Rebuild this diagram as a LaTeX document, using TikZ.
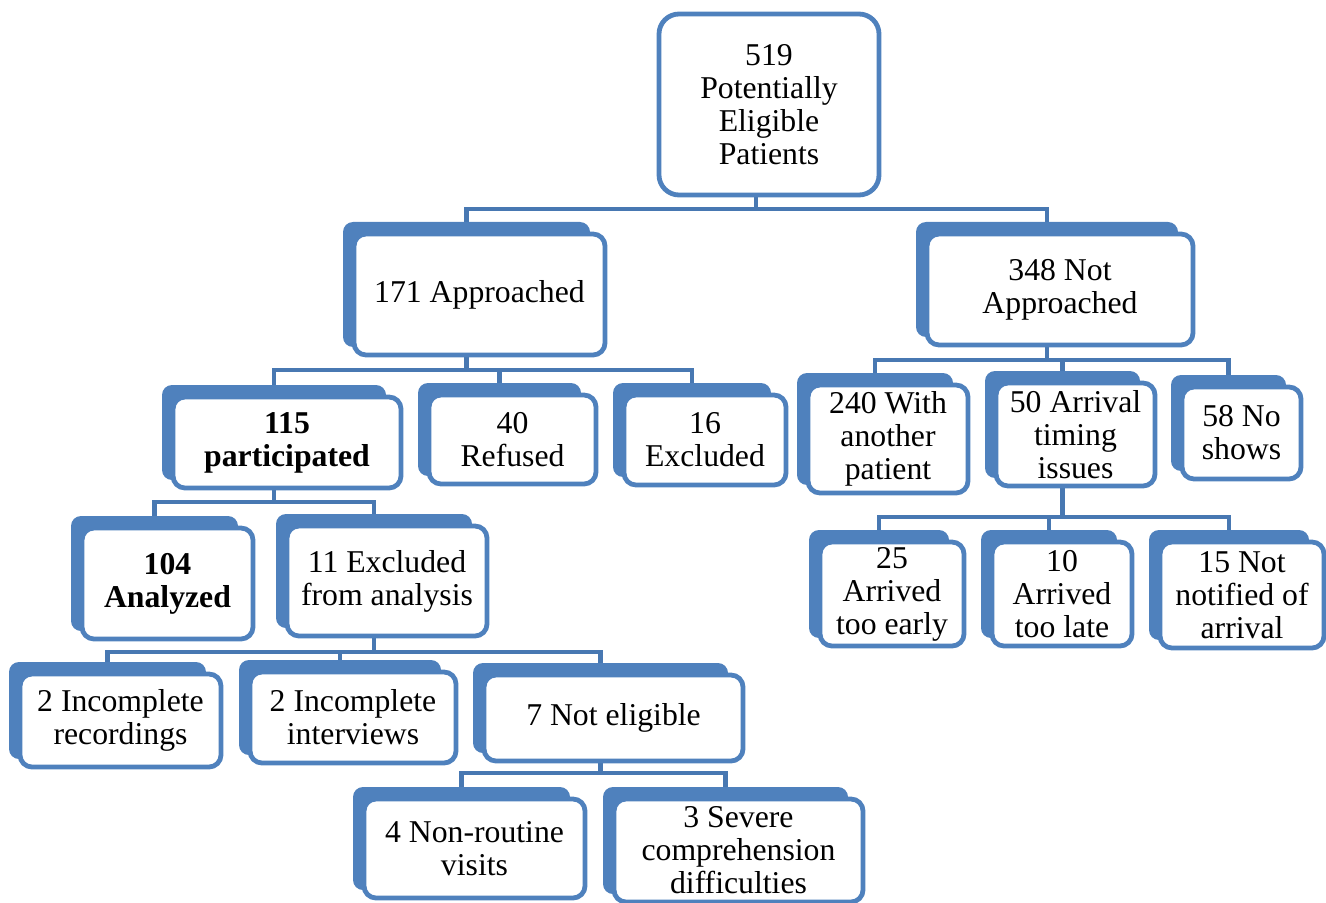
\documentclass[tikz,border=0pt]{standalone}
\usepackage{fontspec}
\setmainfont{Liberation Serif}
\usetikzlibrary{backgrounds}
\definecolor{boxblue}{HTML}{4F81BD}
\definecolor{connblue}{HTML}{4878B2}
\tikzset{
  backbox/.style={fill=boxblue, draw=none, rounded corners=7.5pt, inner sep=0pt, outer sep=0pt},
  frontbox/.style={fill=white, draw=boxblue, line width=3.6pt, rounded corners=9pt, inner sep=0pt, outer sep=0pt, align=center, font=\fontsize{23.8pt}{24.75pt}\selectfont},
  conn/.style={draw=connblue, line width=3.6pt},
}
\newcommand\tbox[7]{%
  \pgfmathsetmacro\BWd{0.75*(#4-#2-8)}%
  \pgfmathsetmacro\BHt{0.75*(#5-#3)}%
  \pgfmathsetmacro\FWd{0.75*(#4-#2-4)}%
  \pgfmathsetmacro\FHt{0.75*(#5-#3-4)}%
  \node[backbox,#6,minimum width=\BWd pt,minimum height=\BHt pt] (#1) at ({(#2+#4)/2-13},{(#3+#5)/2-10}) {};%
  \node[frontbox,minimum width=\FWd pt,minimum height=\FHt pt] (#1-f) at ({(#2+#4)/2},{(#3+#5)/2}) {#7};%
}
\begin{document}
\begin{tikzpicture}[x=0.75pt,y=-0.75pt]
\useasboundingbox (0,0) rectangle (1326,902);
% root
\node[backbox,draw=none,fill=none,minimum width={0.75*(881-657-8)*1pt},minimum height={0.75*(197-12)*1pt}] (root) at ({(657+881)/2-13},{(12+197)/2-10}) {};
\node[frontbox,rounded corners=15pt,minimum width={0.75*(881-657-4)*1pt},minimum height={0.75*(197-12-4)*1pt}] (root-f) at ({(657+881)/2},{(12+197)/2}) {519\\Potentially\\Eligible\\Patients};
\tbox{app}{352}{232}{607}{357}{}{171 Approached}
\tbox{napp}{925}{232}{1195}{347}{}{348 Not\\Approached}
\tbox{part}{171}{395}{403}{490}{}{\textbf{115}\\\textbf{participated}}
\tbox{ref}{427}{393}{598}{486}{}{40\\Refused}
\tbox{exc}{622}{393}{788}{487}{}{16\\Excluded}
\tbox{with}{806}{383}{970}{495}{}{240 With\\another\\patient}
\tbox{arr}{994}{381}{1157}{488}{}{50 Arrival\\timing\\issues}
\tbox{noshow}{1180}{385}{1303}{481}{}{58 No\\shows}
\tbox{early}{818}{540}{966}{648}{}{25\\Arrived\\too early}
\tbox{late}{990}{540}{1134}{648}{}{10\\Arrived\\too late}
\tbox{notif}{1158}{540}{1326}{650}{}{15 Not\\notified of\\arrival}
\tbox{anal}{80}{526}{255}{641}{}{\textbf{104}\\\textbf{Analyzed}}
\tbox{exfa}{285}{524}{489}{638}{}{11 Excluded\\from analysis}
\tbox{increc}{18}{672}{223}{769}{}{2 Incomplete\\recordings}
\tbox{incint}{248}{670}{458}{765}{}{2 Incomplete\\interviews}
\tbox{note}{482}{673}{745}{763}{}{7 Not eligible}
\tbox{nonr}{362}{797}{587}{900}{}{4 Non-routine\\visits}
\tbox{sev}{612}{797}{865}{904}{}{3 Severe\\comprehension\\difficulties}
\begin{pgfonlayer}{background}
\coordinate (b0) at (0,209);
\coordinate (b1) at (0,370);
\coordinate (b2) at (0,360);
\coordinate (b3) at (0,502);
\coordinate (b4) at (0,517);
\coordinate (b5) at (0,652);
\coordinate (b6) at (0,773);
% root
\draw[conn] (root.south) -- (root.south |- b0);
\draw[conn] (app.north) |- (napp.north |- b0) -- (napp.north);
% approached
\draw[conn] (app.south) -- (app.south |- b1);
\draw[conn] (part.north) |- (exc.north |- b1) -- (exc.north);
\draw[conn] (ref.north) -- (ref.north |- b1);
% not approached
\draw[conn] (napp.south) -- (napp.south |- b2);
\draw[conn] (with.north) |- (noshow.north |- b2) -- (noshow.north);
\draw[conn] (arr.north) -- (arr.north |- b2);
% participated
\draw[conn] (part.south) -- (part.south |- b3);
\draw[conn] (anal.north) |- (exfa.north |- b3) -- (exfa.north);
% arrival timing
\draw[conn] (arr.south) -- (arr.south |- b4);
\draw[conn] (early.north) |- (notif.north |- b4) -- (notif.north);
\draw[conn] (late.north) -- (late.north |- b4);
% excluded from analysis
\draw[conn] (exfa.south) -- (exfa.south |- b5);
\draw[conn] (increc.north) |- (note.north |- b5) -- (note.north);
\draw[conn] (incint.north) -- (incint.north |- b5);
% not eligible
\draw[conn] (note.south) -- (note.south |- b6);
\draw[conn] (nonr.north) |- (sev.north |- b6) -- (sev.north);
\end{pgfonlayer}
\end{tikzpicture}
\end{document}
